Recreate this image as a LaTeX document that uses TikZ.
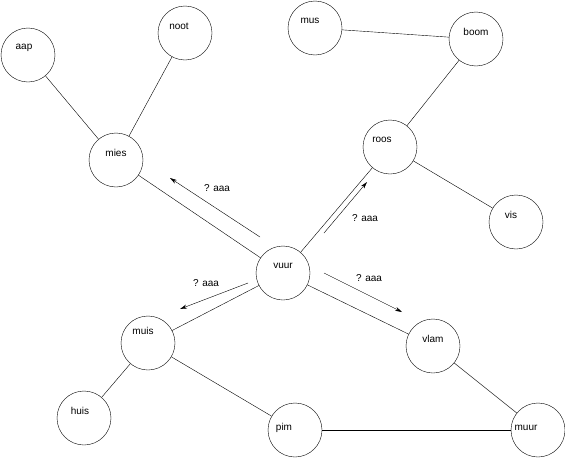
\documentclass[tikz,border=0pt]{standalone}
\usepackage{fontspec}
\setmainfont{Liberation Sans}
\usetikzlibrary{arrows.meta}

\tikzset{
  vertex/.style={circle,draw,minimum size=54pt,inner sep=0pt},
  lbl/.style={font=\fontsize{10}{11}\selectfont,yshift=7pt},
  flow/.style={-{Stealth[length=7pt,width=4pt]}},
  flowtext/.style={font=\fontsize{10}{11}\selectfont}
}

\begin{document}
\begin{tikzpicture}[x=1pt,y=-1pt]
  \useasboundingbox (0,0) rectangle (565,458);

  \node (aap)  [vertex,label={[lbl,xshift=-4pt]center:aap}]   at (28,55)   {};
  \node (noot) [vertex,label={[lbl,xshift=-6pt]center:noot}]  at (185,33)  {};
  \node (mies) [vertex,label={[lbl]center:mies}]              at (116,160) {};
  \node (mus)  [vertex,label={[lbl,xshift=-5pt]center:mus}]   at (315,28)  {};
  \node (boom) [vertex,label={[lbl]center:boom}]              at (476,39)  {};
  \node (roos) [vertex,label={[lbl,xshift=-8pt]center:roos}]  at (390,147) {};
  \node (vis)  [vertex,label={[lbl,xshift=-5pt]center:vis}]   at (516,222) {};
  \node (vuur) [vertex,label={[lbl]center:vuur}]              at (283,273) {};
  \node (muis) [vertex,label={[lbl,xshift=-5pt,yshift=5pt]center:muis}] at (148,343) {};
  \node (vlam) [vertex,label={[lbl]center:vlam}]              at (433,346) {};
  \node (huis) [vertex,label={[lbl,xshift=-4pt]center:huis}]  at (84,418)  {};
  \node (pim)  [vertex,label={[lbl,xshift=-11pt,yshift=-5pt]center:pim}]  at (295,430) {};
  \node (muur) [vertex,label={[lbl,xshift=-12pt,yshift=-5pt]center:muur}] at (538,430) {};

  \draw (mies) -- (aap);
  \draw (mies) -- (noot);
  \draw (mies) -- (vuur);
  \draw (vuur) -- (roos);
  \draw (roos) -- (boom);
  \draw (boom) -- (mus);
  \draw (roos) -- (vis);
  \draw (vuur) -- (vlam);
  \draw (vlam) -- (muur);
  \draw (muur) -- (pim);
  \draw (pim) -- (muis);
  \draw (muis) -- (huis);
  \draw (muis) -- (vuur);

  % parallel flows out of vuur
  \coordinate (f1a) at (260,237); \coordinate (f1b) at (170,178);
  \coordinate (f2a) at (324,233); \coordinate (f2b) at (367,182);
  \coordinate (f3a) at (324,273); \coordinate (f3b) at (402,312);
  \coordinate (f4a) at (248,283); \coordinate (f4b) at (180,309);
  \draw[flow] (f1a) -- (f1b);
  \draw[flow] (f2a) -- (f2b);
  \draw[flow] (f3a) -- (f3b);
  \draw[flow] (f4a) -- (f4b);
  \node (t1) [flowtext] at (217,188) {? aaa};
  \node (t2) [flowtext] at (365,218) {? aaa};
  \node (t3) [flowtext] at (369,278) {? aaa};
  \node (t4) [flowtext] at (206,283) {? aaa};
\end{tikzpicture}
\end{document}
